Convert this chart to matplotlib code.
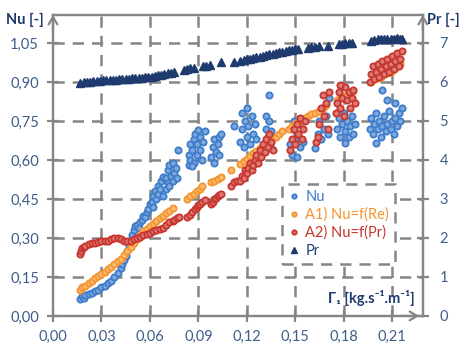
#!/usr/bin/env python3
"""
Nusselt number and Prandtl number against the mass flow rate Gamma_1
"""
import matplotlib
matplotlib.use('Agg')
from matplotlib import pyplot as plt

# --------------------------------------------------
# data (x = Gamma_1 in kg/s/m)
nu_x = [0.017, 0.018, 0.019, 0.020, 0.022, 0.024, 0.026, 0.028, 0.030, 0.032,
        0.034, 0.036, 0.038, 0.040, 0.042, 0.043, 0.044, 0.045, 0.046, 0.047,
        0.048, 0.049, 0.050, 0.051, 0.052, 0.053, 0.054, 0.055, 0.056, 0.057,
        0.058, 0.059, 0.060, 0.061, 0.062, 0.062, 0.063, 0.064, 0.065, 0.065,
        0.066, 0.067, 0.068, 0.068,
        0.070, 0.070, 0.071, 0.071, 0.072, 0.072, 0.073, 0.074, 0.074, 0.075,
        0.076, 0.077, 0.0775,
        0.084, 0.084, 0.085, 0.085, 0.086, 0.087, 0.087, 0.088, 0.089, 0.089,
        0.090, 0.091, 0.091, 0.092, 0.093, 0.094, 0.086,
        0.098, 0.099, 0.100, 0.100, 0.101, 0.102, 0.103, 0.103, 0.104,
        0.112,
        0.116, 0.117, 0.117, 0.118, 0.119, 0.120, 0.120, 0.121, 0.122, 0.123,
        0.124, 0.125, 0.126,
        0.131, 0.132, 0.132, 0.133, 0.134, 0.134, 0.135, 0.135,
        0.147, 0.148, 0.148, 0.149, 0.150, 0.151, 0.151, 0.152, 0.153,
        0.155, 0.162,
        0.164, 0.165, 0.166, 0.167, 0.168, 0.169, 0.170, 0.171,
        0.176, 0.177, 0.178, 0.179, 0.180, 0.181, 0.182, 0.183, 0.184, 0.185,
        0.186, 0.187, 0.181,
        0.196, 0.197, 0.198, 0.199, 0.200, 0.201, 0.202, 0.203, 0.204, 0.205,
        0.206, 0.207, 0.208, 0.209, 0.210, 0.211, 0.212, 0.213, 0.214, 0.215,
        0.216, 0.200, 0.204, 0.207, 0.212]
nu_y = [0.065, 0.075, 0.070, 0.080, 0.085, 0.090, 0.095, 0.100, 0.110, 0.115,
        0.125, 0.135, 0.150, 0.165, 0.185, 0.200, 0.215, 0.230, 0.250, 0.270,
        0.290, 0.310, 0.330, 0.345, 0.350, 0.340, 0.360, 0.370, 0.385, 0.380,
        0.400, 0.410, 0.430, 0.440, 0.420, 0.460, 0.480, 0.450, 0.470, 0.500,
        0.490, 0.520, 0.460, 0.535,
        0.490, 0.530, 0.510, 0.560, 0.500, 0.580, 0.540, 0.520, 0.590, 0.550,
        0.570, 0.530, 0.640,
        0.580, 0.620, 0.600, 0.660, 0.640, 0.590, 0.680, 0.700, 0.620, 0.660,
        0.715, 0.640, 0.690, 0.600, 0.670, 0.710, 0.575,
        0.610, 0.650, 0.590, 0.680, 0.630, 0.660, 0.620, 0.690, 0.700,
        0.730,
        0.670, 0.720, 0.780, 0.650, 0.750, 0.800, 0.690, 0.730, 0.660, 0.770,
        0.700, 0.740, 0.680,
        0.660, 0.720, 0.770, 0.690, 0.750, 0.850, 0.645, 0.710,
        0.660, 0.720, 0.620, 0.750, 0.680, 0.610, 0.700, 0.740, 0.650,
        0.670, 0.645,
        0.700, 0.750, 0.680, 0.800, 0.720, 0.770, 0.700, 0.840,
        0.720, 0.760, 0.690, 0.740, 0.780, 0.710, 0.750, 0.690, 0.730, 0.770,
        0.700, 0.740, 0.665,
        0.720, 0.760, 0.700, 0.740, 0.780, 0.720, 0.750, 0.690, 0.730, 0.770,
        0.710, 0.740, 0.790, 0.720, 0.750, 0.700, 0.760, 0.730, 0.780, 0.750,
        0.800, 0.665, 0.870, 0.830, 0.820]

a1_x = [0.017, 0.018, 0.020, 0.022, 0.024, 0.026, 0.028, 0.030, 0.032, 0.034,
        0.036, 0.038, 0.040, 0.042, 0.044, 0.046, 0.048, 0.050, 0.052, 0.054,
        0.056, 0.058, 0.060, 0.062, 0.064, 0.066, 0.068, 0.070, 0.072, 0.074,
        0.083, 0.085, 0.087, 0.089, 0.091, 0.092, 0.098, 0.100, 0.102, 0.104,
        0.110, 0.116, 0.118, 0.120, 0.122, 0.124, 0.126, 0.128, 0.130, 0.132,
        0.134, 0.136, 0.138, 0.140, 0.142, 0.146, 0.148, 0.150, 0.152, 0.154,
        0.156, 0.158, 0.160, 0.162, 0.165, 0.167, 0.169, 0.176, 0.178, 0.180,
        0.182, 0.184, 0.186, 0.197, 0.199, 0.201, 0.203, 0.205, 0.207, 0.209,
        0.211, 0.213, 0.215]
a1_y = [0.100, 0.110, 0.115, 0.125, 0.135, 0.145, 0.155, 0.160, 0.170, 0.180,
        0.190, 0.200, 0.210, 0.220, 0.235, 0.250, 0.265, 0.280, 0.295, 0.310,
        0.325, 0.335, 0.345, 0.355, 0.365, 0.375, 0.385, 0.395, 0.405, 0.415,
        0.450, 0.460, 0.470, 0.480, 0.490, 0.500, 0.515, 0.520, 0.525, 0.535,
        0.560, 0.585, 0.595, 0.605, 0.615, 0.625, 0.635, 0.645, 0.655, 0.665,
        0.675, 0.685, 0.690, 0.700, 0.710, 0.720, 0.730, 0.740, 0.745, 0.750,
        0.760, 0.770, 0.775, 0.780, 0.790, 0.800, 0.810, 0.830, 0.840, 0.845,
        0.850, 0.860, 0.865, 0.900, 0.910, 0.915, 0.920, 0.930, 0.935, 0.940,
        0.950, 0.960, 0.970]

a2_x = [0.017, 0.0175, 0.018, 0.019, 0.020, 0.022, 0.024, 0.026, 0.028, 0.030,
        0.032, 0.034, 0.036, 0.038, 0.040, 0.042, 0.044, 0.046, 0.048, 0.050,
        0.052, 0.054, 0.056, 0.058, 0.060, 0.062, 0.064, 0.066, 0.068, 0.070,
        0.072, 0.074, 0.075, 0.077, 0.078,
        0.083, 0.085, 0.086, 0.088, 0.089, 0.090, 0.091, 0.092, 0.094,
        0.098, 0.099, 0.100, 0.101, 0.102, 0.103, 0.104,
        0.110, 0.112, 0.114,
        0.116, 0.117, 0.118, 0.119, 0.120, 0.121, 0.122, 0.123,
        0.124, 0.125, 0.126, 0.127, 0.128, 0.129, 0.130, 0.131, 0.132, 0.133,
        0.134, 0.135, 0.136,
        0.147, 0.148, 0.149, 0.150, 0.151, 0.152, 0.153, 0.154, 0.155, 0.156,
        0.163, 0.164, 0.165, 0.166, 0.167, 0.168, 0.169, 0.170, 0.171,
        0.175, 0.176, 0.177, 0.178, 0.179, 0.180, 0.181, 0.182, 0.183, 0.184,
        0.185, 0.186, 0.187, 0.178,
        0.196, 0.197, 0.198, 0.199, 0.200, 0.201, 0.202, 0.203, 0.204, 0.205,
        0.206, 0.207, 0.208, 0.209, 0.210, 0.211, 0.212, 0.213, 0.214, 0.215,
        0.216]
a2_y = [0.240, 0.250, 0.260, 0.265, 0.270, 0.275, 0.280, 0.280, 0.285, 0.290,
        0.290, 0.290, 0.295, 0.300, 0.300, 0.295, 0.290, 0.290, 0.290, 0.295,
        0.300, 0.305, 0.310, 0.315, 0.320, 0.325, 0.330, 0.335, 0.340, 0.350,
        0.360, 0.365, 0.370, 0.375, 0.380,
        0.380, 0.390, 0.400, 0.410, 0.420, 0.425, 0.430, 0.440, 0.445,
        0.430, 0.440, 0.450, 0.455, 0.460, 0.465, 0.470,
        0.500, 0.515, 0.520,
        0.520, 0.540, 0.530, 0.560, 0.550, 0.570, 0.590, 0.560,
        0.580, 0.600, 0.620, 0.590, 0.640, 0.610, 0.660, 0.630, 0.680, 0.650,
        0.700, 0.670, 0.640,
        0.640, 0.680, 0.720, 0.660, 0.740, 0.700, 0.760, 0.680, 0.720, 0.750,
        0.670, 0.690, 0.740, 0.800, 0.850, 0.770, 0.820, 0.720, 0.860,
        0.780, 0.820, 0.860, 0.800, 0.840, 0.770, 0.880, 0.830, 0.860, 0.800,
        0.840, 0.870, 0.820, 0.890,
        0.900, 0.930, 0.960, 0.910, 0.940, 0.970, 0.920, 0.950, 0.980, 0.930,
        0.960, 0.990, 0.940, 0.970, 1.000, 0.950, 0.980, 1.010, 0.960, 0.990,
        1.020]

pr_x = [0.017, 0.019, 0.021, 0.023, 0.025, 0.027, 0.029, 0.031, 0.033, 0.035,
        0.037, 0.039, 0.041, 0.043, 0.045, 0.047, 0.049, 0.051, 0.053, 0.055,
        0.057, 0.059, 0.061, 0.063, 0.065, 0.067, 0.069, 0.071, 0.073, 0.075,
        0.081, 0.083, 0.085, 0.087, 0.093, 0.095, 0.097, 0.104, 0.112,
        0.116, 0.118, 0.120, 0.122, 0.124, 0.126, 0.128, 0.130, 0.132, 0.134,
        0.136, 0.138, 0.140, 0.142, 0.144, 0.146, 0.148, 0.150, 0.152,
        0.158, 0.160, 0.162, 0.165, 0.170, 0.177, 0.179, 0.181, 0.183, 0.185,
        0.197, 0.199, 0.201, 0.203, 0.205, 0.207, 0.209, 0.211, 0.213, 0.215,
        0.216]
pr_y = [5.97, 5.99, 6.00, 6.01, 6.02, 6.03, 6.03, 6.04, 6.05, 6.05,
        6.06, 6.06, 6.07, 6.07, 6.08, 6.08, 6.09, 6.10, 6.10, 6.11,
        6.12, 6.13, 6.14, 6.16, 6.17, 6.19, 6.20, 6.22, 6.24, 6.26,
        6.32, 6.34, 6.35, 6.36, 6.40, 6.42, 6.44, 6.50, 6.52,
        6.55, 6.57, 6.58, 6.60, 6.62, 6.64, 6.65, 6.67, 6.69, 6.71,
        6.72, 6.74, 6.76, 6.78, 6.79, 6.81, 6.83, 6.84, 6.85,
        6.88, 6.89, 6.90, 6.91, 6.93, 6.97, 6.98, 6.99, 7.00, 7.00,
        7.05, 7.08, 7.10, 7.10, 7.09, 7.10, 7.11, 7.10, 7.12, 7.11,
        7.09]

x_ticks = [0.00, 0.03, 0.06, 0.09, 0.12, 0.15, 0.18, 0.21]
nu_ticks = [0.00, 0.15, 0.30, 0.45, 0.60, 0.75, 0.90, 1.05]
pr_ticks = [0, 1, 2, 3, 4, 5, 6, 7]

BLUE = '#3d7cc9'
BLUE_FILL = '#7fa8de'
ORANGE = '#f5952f'
ORANGE_FILL = '#f9bb76'
RED = '#c8352f'
RED_FILL = '#dc7a74'
NAVY = '#1e3a6e'
GREY = '#858585'
TXT = '#3f5d8a'
FONT = ['Lato', 'DejaVu Sans']


def comma(v):
    return f'{v:.2f}'.replace('.', ',')


def make_plot():
    plt.rcParams['font.family'] = FONT
    plt.rcParams['font.size'] = 10.5

    fig = plt.figure(figsize=(4.73, 3.55), dpi=100)
    ax = fig.add_axes([0.112, 0.110, 0.782, 0.848])
    ax2 = ax.twinx()

    ax.set_xlim(0, 0.229)
    ax.set_ylim(0, 1.158)
    ax2.set_ylim(0, 1.158 * 7 / 1.05)

    # dashed grid
    for xt in x_ticks[1:]:
        ax.axvline(xt, color=GREY, lw=1.8, ls=(0, (4.5, 3.2)), zorder=0)
    for yt in nu_ticks[1:]:
        ax.axhline(yt, color=GREY, lw=1.8, ls=(0, (4.5, 3.2)), zorder=0)

    h1, = ax.plot(nu_x, nu_y, 'o', ms=4.5, mfc=BLUE_FILL, mec=BLUE, mew=1.3,
                  label='Nu', zorder=2)
    h2, = ax.plot(a1_x, a1_y, 'o', ms=4.5, mfc=ORANGE_FILL, mec=ORANGE,
                  mew=1.3, label='A1) Nu=f(Re)', zorder=3)
    h3, = ax.plot(a2_x, a2_y, 'o', ms=4.5, mfc=RED_FILL, mec=RED, mew=1.3,
                  label='A2) Nu=f(Pr)', zorder=4)
    h4, = ax2.plot(pr_x, pr_y, '^', ms=5.5, color=NAVY, label='Pr')

    ax.set_xticks(x_ticks)
    ax.set_xticklabels([comma(v) for v in x_ticks])
    ax.set_yticks(nu_ticks)
    ax.set_yticklabels([comma(v) for v in nu_ticks])
    ax2.set_yticks(pr_ticks)

    for a in (ax, ax2):
        for s in a.spines.values():
            s.set_color(GREY)
            s.set_linewidth(1.6)
        a.tick_params(direction='inout', length=8, width=1.6, color=GREY,
                      labelcolor=TXT, labelsize=10.5)
    ax.tick_params(axis='x', pad=6)
    ax.tick_params(axis='y', pad=6)
    ax2.tick_params(axis='y', pad=8)

    # arrow heads on the axis lines
    arrow = dict(arrowstyle='->,head_length=0.5,head_width=0.3',
                 color=GREY, lw=1.6, shrinkA=0, shrinkB=0)
    ax.annotate('', xy=(0, 1.0), xytext=(0, 0.95), xycoords='axes fraction',
                arrowprops=arrow)
    ax.annotate('', xy=(1, 1.0), xytext=(1, 0.95), xycoords='axes fraction',
                arrowprops=arrow)
    ax.annotate('', xy=(0.99, 0), xytext=(0.94, 0), xycoords='axes fraction',
                arrowprops=arrow)

    fig.text(0.012, 0.943, 'Nu [-]', color=NAVY, fontweight='bold',
             fontsize=10.5, va='center')
    fig.text(0.902, 0.943, 'Pr [-]', color=NAVY, fontweight='bold',
             fontsize=10.5, va='center')
    ax.text(0.978, 0.06, 'Γ\u2081 [kg.s\u207b\u00b9.m\u207b\u00b9]',
            transform=ax.transAxes, ha='right', va='center', color=NAVY,
            fontweight='bold', fontsize=10.5, family=FONT)

    leg = ax2.legend([h1, h2, h3, h4],
                     ['Nu', 'A1) Nu=f(Re)', 'A2) Nu=f(Pr)', 'Pr'],
                     loc='upper left', bbox_to_anchor=(0.619, 0.437),
                     frameon=True, fancybox=False, framealpha=1,
                     borderpad=0.4, labelspacing=0.25, handlelength=0.8,
                     handletextpad=0.4, borderaxespad=0, markerscale=0.7,
                     fontsize=10.5)
    frame = leg.get_frame()
    frame.set_edgecolor(GREY)
    frame.set_linewidth(1.8)
    frame.set_linestyle((0, (4.5, 3.2)))
    for txt, col in zip(leg.get_texts(), [BLUE, ORANGE, RED, NAVY]):
        txt.set_color(col)

    fig.savefig('out.png', dpi=100)


# --------------------------------------------------
def main():
    make_plot()


# --------------------------------------------------
if __name__ == '__main__':
    main()
